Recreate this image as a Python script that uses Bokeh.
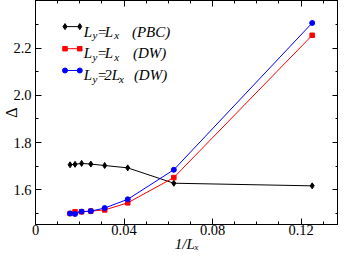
from bokeh.plotting import figure
from bokeh.models import FixedTicker, LinearAxis, Range1d
from bokeh.core.properties import value
from bokeh.embed import file_html
from bokeh.resources import INLINE

# ---- data ----
inv_L = [0.015625, 0.017857, 0.020833, 0.025, 0.03125, 0.041667, 0.0625, 0.125]
pbc_LyLx = [1.706, 1.708, 1.712, 1.709, 1.703, 1.693, 1.628, 1.617]
dw_LyLx = [1.500, 1.507, 1.507, 1.510, 1.515, 1.545, 1.652, 2.254]
dw_Ly2Lx = [1.500, 1.498, 1.508, 1.510, 1.523, 1.560, 1.685, 2.306]

x_major = [0, 0.04, 0.08, 0.12]
x_major_labels = ["0", "0.04", "0.08", "0.12"]
x_minor = [0.01 * i for i in range(15)]
y_major = [1.6, 1.8, 2.0, 2.2]
y_major_labels = ["1.6", "1.8", "2.0", "2.2"]
y_minor = [1.5 + 0.1 * i for i in range(10)]

# ---- layout (page pixels) ----
W, H = 338, 259
LEFT, BOTTOM, TOP, RIGHT = 29, 35, 0, 0
TOP_EXT, RIGHT_EXT = 1, 1
FIG_PAGE_X, FIG_PAGE_Y = 8, 0
PX_PER_X = 2250.0
PX_PER_Y = 235.3
frame_w = W - LEFT - RIGHT_EXT
frame_h = H - BOTTOM - TOP_EXT
X0 = 0.0
X1 = X0 + frame_w / PX_PER_X
Y0 = 1.4534
Y1 = Y0 + frame_h / PX_PER_Y
PAGE_LEFT = FIG_PAGE_X + LEFT
PAGE_BOTTOM = FIG_PAGE_Y + H - BOTTOM


def px2x(px):
    return X0 + (px - PAGE_LEFT) / PX_PER_X


def py2y(py):
    return Y0 + (PAGE_BOTTOM - py) / PX_PER_Y


SERIF = value("Liberation Serif")

p = figure(width=W, height=H, output_backend="svg", toolbar_location=None,
           x_range=Range1d(X0, X1), y_range=Range1d(Y0, Y1),
           min_border_left=LEFT, min_border_bottom=BOTTOM,
           min_border_top=TOP, min_border_right=RIGHT,
           x_axis_location=None, y_axis_location=None)
p.grid.visible = False
p.outline_line_color = "black"
p.outline_line_width = 1
p.background_fill_color = "white"
p.border_fill_color = "white"

xt = FixedTicker(ticks=x_major, minor_ticks=x_minor)
yt = FixedTicker(ticks=y_major, minor_ticks=y_minor)


def style_axis(ax, show_labels):
    ax.major_tick_in = 6
    ax.major_tick_out = 0
    ax.minor_tick_in = 3
    ax.minor_tick_out = 0
    ax.axis_line_color = "black"
    ax.major_tick_line_color = "black"
    ax.minor_tick_line_color = "black"
    ax.major_label_text_font = "Liberation Serif"
    ax.major_label_text_color = "black"
    ax.axis_label_text_font = "Liberation Serif"
    ax.axis_label_text_color = "black"
    if show_labels:
        ax.major_label_text_font_size = "14.5px"
    else:
        ax.major_label_text_font_size = "1px"
        ax.major_label_text_color = None
        ax.major_label_standoff = 0
        ax.axis_label_standoff = 0


xb = LinearAxis(ticker=xt, major_label_overrides=dict(zip(x_major, x_major_labels)),
                axis_label="1/L\u2093")
style_axis(xb, True)
xb.major_label_standoff = 0
xb.axis_label_standoff = -2
xb.axis_label_text_font_size = "15px"
xb.axis_label_text_font_style = "italic"
p.add_layout(xb, "below")

yl = LinearAxis(ticker=yt, major_label_overrides=dict(zip(y_major, y_major_labels)),
                axis_label="Δ")
style_axis(yl, True)
yl.major_label_standoff = 4
yl.axis_label_standoff = -10
yl.axis_label_text_font_size = "16px"
yl.axis_label_text_font_style = "normal"
p.add_layout(yl, "left")

xa = LinearAxis(ticker=xt)
style_axis(xa, False)
p.add_layout(xa, "above")
yr = LinearAxis(ticker=yt)
style_axis(yr, False)
p.add_layout(yr, "right")

series = [
    (pbc_LyLx, "black", "diamond", 6),
    (dw_LyLx, "red", "square", 4.5),
    (dw_Ly2Lx, "blue", "circle", 5),
]
for ys, col, mk, sz in series:
    p.line(inv_L, ys, line_color=col, line_width=1)
    p.scatter(inv_L, ys, marker=mk, size=sz, fill_color=col, line_color=col)

# ---- legend drawn by hand (to get subscripts) ----
rows = [
    (27.0, 32.0, "black", "diamond", 6, "L", 107.5, 117.0, "(PBC)", 135.0),
    (49.0, 53.7, "red", "square", 4.5, "L", 107.5, 117.0, "(DW)", 136.0),
    (70.7, 75.4, "blue", "circle", 5, "2L", 107.0, 122.0, "(DW)", 137.0),
]
for my, by, col, mk, sz, rhs, rhs_x, sub_x, tag, tag_x in rows:
    lx = [px2x(67), px2x(82)]
    ly = [py2y(my), py2y(my)]
    p.line(lx, ly, line_color=col, line_width=1)
    p.scatter(lx, ly, marker=mk, size=sz, fill_color=col, line_color=col)
    pieces = [
        ("L", 86.0, by, "15px", "italic"),
        ("y", 95.0, by + 3.5, "11px", "italic"),
        ("=", 100.5, by, "15px", "normal"),
        (rhs, rhs_x, by, "15px", "italic"),
        ("x", sub_x, by + 3.5, "11px", "italic"),
        (tag, tag_x, by, "15px", "italic"),
    ]
    for txt, tx, ty, fs, st in pieces:
        p.text(x=[px2x(tx)], y=[py2y(ty)], text=[txt], text_font=SERIF,
               text_font_size=fs, text_font_style=st, text_color="black",
               text_align="left", text_baseline="alphabetic")

open("out.html", "w").write(file_html(p, INLINE))
